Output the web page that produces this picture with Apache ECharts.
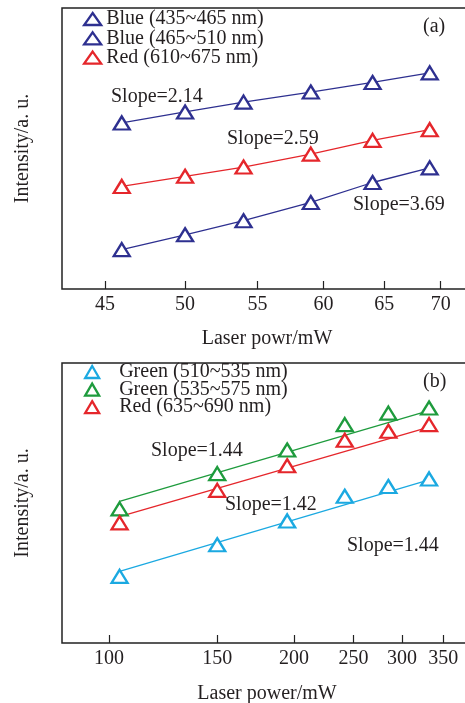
<!DOCTYPE html>
<html>
<head>
<meta charset="utf-8">
<title>Intensity vs laser power</title>
<script src="https://cdn.jsdelivr.net/npm/echarts@6/dist/echarts.min.js"></script>
<style>
html,body{margin:0;padding:0;background:#fff;}
#main{width:465px;height:703px;}
</style>
</head>
<body>
<div id="main"></div>
<script>
// 图(a) 数据
var powerA = [46, 50, 54, 59, 64, 69];
var blueA1 = [59.1, 63.0, 66.5, 70.1, 73.5, 76.9];   // Blue 435~465, slope 2.14
var redA = [36.5, 40.1, 43.4, 48.0, 52.9, 56.7];     // Red 610~675, slope 2.59
var blueA2 = [14.0, 19.3, 24.3, 30.8, 37.9, 43.1];   // Blue 465~510, slope 3.69
var ticksA = [45, 50, 55, 60, 65, 70];

// 图(b) 数据
var powerB = [104, 150, 195, 242, 285, 332];
var cyanB = [23.8, 35.1, 43.6, 52.4, 55.9, 58.6];    // Green 510~535
var greenB = [47.9, 60.5, 68.9, 78.0, 82.1, 83.9];   // Green 535~575
var redB = [42.9, 54.5, 63.3, 72.4, 75.6, 78.0];     // Red 635~690
// 拟合线端点
var fitPowerB = [104, 332];
var fitCyanB = [25.6, 58.3];
var fitGreenB = [50.6, 83.0];
var fitRedB = [45.1, 77.1];
var ticksB = [100, 150, 200, 250, 300, 350];

var namesA = ['Blue (435~465 nm)', 'Blue (465~510 nm)', 'Red (610~675 nm)'];
var namesB = ['Green (510~535 nm)', 'Green (535~575 nm)', 'Red (635~690 nm)'];

var BLUE = '#2e3090', RED = '#e5262b', GREEN = '#1e9b3d', CYAN = '#1ba9e1';
var SERIF = '"Liberation Serif", "DejaVu Serif", serif';
var TXT = '#231f20';

function pairs(xs, ys){
	var out = [];
	for(var i=0;i<xs.length;i++){
		out.push([xs[i], ys[i]]);
	}
	return out;
}

// 三角形标记
function markSeries(name, xs, ys, color, idx, withLine){
	return {
		name: name,
		type: 'line',
		xAxisIndex: idx,
		yAxisIndex: idx,
		data: pairs(xs, ys),
		symbol: 'triangle',
		symbolSize: [16, 13],
		showAllSymbol: true,
		itemStyle: {color: '#fff', borderColor: color, borderWidth: 2.3},
		lineStyle: {color: color, width: withLine ? 1.3 : 0, opacity: withLine ? 1 : 0},
		z: 3,
		animation: false
	};
}

// 拟合直线
function fitSeries(xs, ys, color, idx){
	return {
		type: 'line',
		xAxisIndex: idx,
		yAxisIndex: idx,
		data: pairs(xs, ys),
		showSymbol: false,
		symbol: 'none',
		lineStyle: {color: color, width: 1.3},
		z: 2,
		silent: true,
		animation: false
	};
}

function legendData(names, colors){
	var out = [];
	for(var i=0;i<names.length;i++){
		out.push({
			name: names[i],
			icon: 'triangle',
			itemStyle: {color: '#fff', borderColor: colors[i], borderWidth: 2.3}
		});
	}
	return out;
}

function xAxisOpt(idx, min, max, ticks, name, gap){
	return {
		type: 'log',
		gridIndex: idx,
		min: min,
		max: max,
		name: name,
		nameLocation: 'middle',
		nameGap: gap,
		nameTextStyle: {fontFamily: SERIF, fontSize: 20, color: TXT},
		axisLine: {show: false},
		axisTick: {show: true, inside: true, length: 8, customValues: ticks, lineStyle: {color: '#222', width: 1.2}},
		axisLabel: {show: true, customValues: ticks, margin: 6, fontFamily: SERIF, fontSize: 20, color: TXT},
		splitLine: {show: false},
		minorTick: {show: false}
	};
}

function yAxisOpt(idx){
	return {
		type: 'value',
		gridIndex: idx,
		min: 0,
		max: 100,
		name: 'Intensity/a. u.',
		nameLocation: 'middle',
		nameGap: 29,
		nameRotate: 90,
		nameTextStyle: {fontFamily: SERIF, fontSize: 20, color: TXT},
		axisLine: {show: false},
		axisTick: {show: false},
		axisLabel: {show: false},
		splitLine: {show: false}
	};
}

function noteText(str, x, y){
	return {
		type: 'text',
		x: x,
		y: y,
		style: {text: str, fontFamily: SERIF, fontSize: 20, fill: TXT, verticalAlign: 'middle'}
	};
}

function draw_chart(){
	var myChart = echarts.init(document.getElementById('main'), null, {renderer: 'canvas'});
	var option = {
		backgroundColor: '#fff',
		animation: false,
		grid: [
			{left: 62, top: 8, width: 410, height: 281, outerBoundsMode: 'none', containLabel: false,
			 show: true, borderColor: '#222', borderWidth: 1.5},
			{left: 62, top: 363, width: 410, height: 280, outerBoundsMode: 'none', containLabel: false,
			 show: true, borderColor: '#222', borderWidth: 1.5}
		],
		xAxis: [
			xAxisOpt(0, 42.52, 72.95, ticksA, 'Laser powr/mW', 40),
			xAxisOpt(1, 83.8, 390, ticksB, 'Laser power/mW', 41)
		],
		yAxis: [yAxisOpt(0), yAxisOpt(1)],
		legend: [
			{
				orient: 'vertical', left: 83, top: 9, padding: 0, itemGap: -0.7,
				itemWidth: 17, itemHeight: 12, selectedMode: false,
				textStyle: {fontFamily: SERIF, fontSize: 20, color: TXT, padding: [9, 0, 0, 0]},
				data: legendData(namesA, [BLUE, BLUE, RED])
			},
			{
				orient: 'vertical', left: 84, top: 362, padding: 0, itemGap: -2.4,
				itemWidth: 14, itemHeight: 12, selectedMode: false,
				textStyle: {fontFamily: SERIF, fontSize: 20, color: TXT, padding: [7, 0, 0, 15]},
				data: legendData(namesB, [CYAN, GREEN, RED])
			}
		],
		series: [
			markSeries(namesA[0], powerA, blueA1, BLUE, 0, true),
			markSeries(namesA[1], powerA, blueA2, BLUE, 0, true),
			markSeries(namesA[2], powerA, redA, RED, 0, true),
			markSeries(namesB[0], powerB, cyanB, CYAN, 1, false),
			markSeries(namesB[1], powerB, greenB, GREEN, 1, false),
			markSeries(namesB[2], powerB, redB, RED, 1, false),
			fitSeries(fitPowerB, fitCyanB, CYAN, 1),
			fitSeries(fitPowerB, fitGreenB, GREEN, 1),
			fitSeries(fitPowerB, fitRedB, RED, 1)
		],
		graphic: [
			noteText('(a)', 423, 27),
			noteText('Slope=2.14', 111, 97),
			noteText('Slope=2.59', 227, 139),
			noteText('Slope=3.69', 353, 205),
			noteText('(b)', 423, 382),
			noteText('Slope=1.44', 151, 451),
			noteText('Slope=1.42', 225, 505),
			noteText('Slope=1.44', 347, 546)
		]
	};
	myChart.setOption(option);
}

draw_chart();
</script>
</body>
</html>
